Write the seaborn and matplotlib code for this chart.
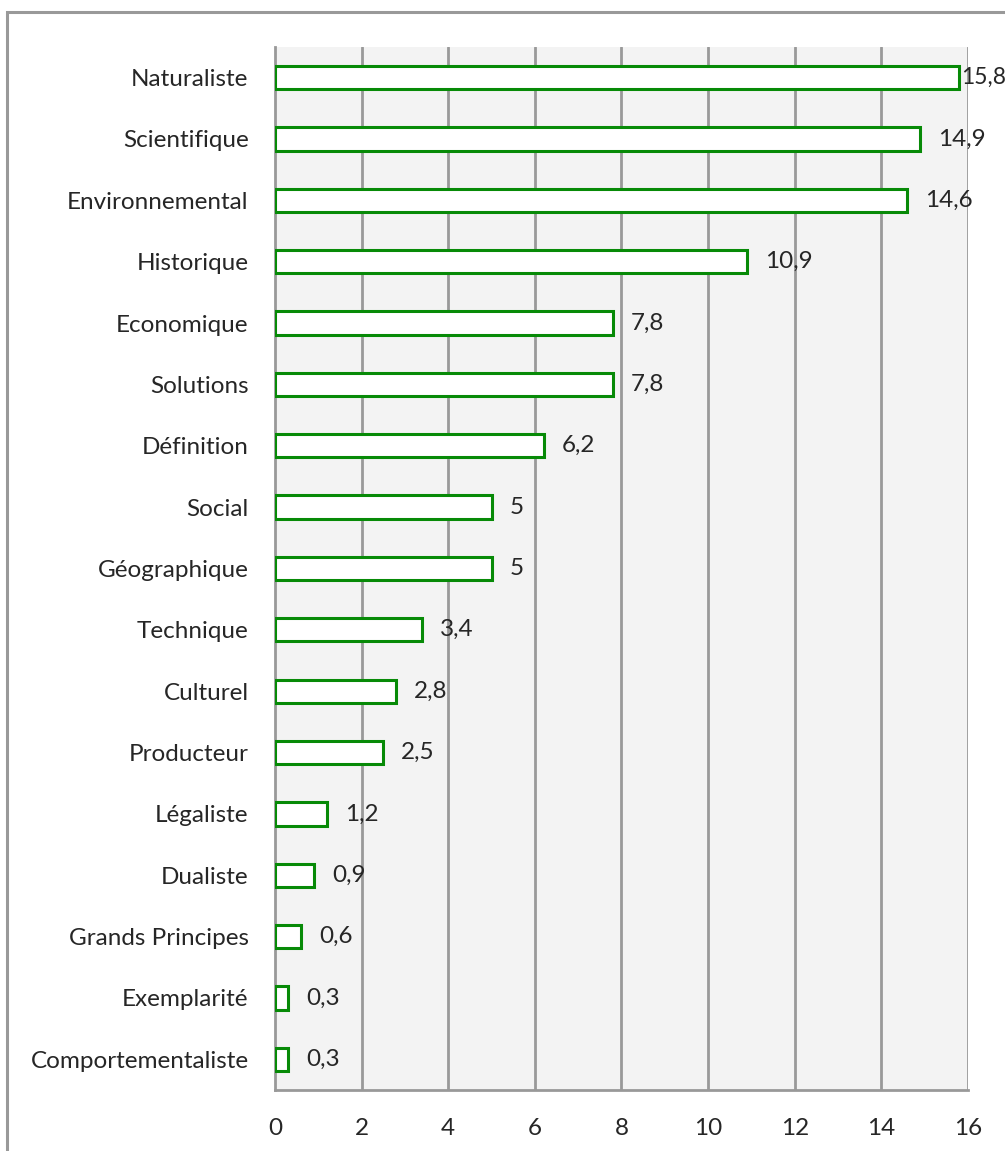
import matplotlib
matplotlib.use("Agg")
import matplotlib.pyplot as plt
import seaborn as sns
import pandas as pd
from matplotlib.patches import Rectangle

categories = ["Naturaliste", "Scientifique", "Environnemental", "Historique",
              "Economique", "Solutions", "Définition", "Social", "Géographique",
              "Technique", "Culturel", "Producteur", "Légaliste", "Dualiste",
              "Grands Principes", "Exemplarité", "Comportementaliste"]
values = [15.8, 14.9, 14.6, 10.9, 7.8, 7.8, 6.2, 5, 5, 3.4, 2.8, 2.5,
          1.2, 0.9, 0.6, 0.3, 0.3]
value_labels = ["15,8", "14,9", "14,6", "10,9", "7,8", "7,8", "6,2", "5", "5",
                "3,4", "2,8", "2,5", "1,2", "0,9", "0,6", "0,3", "0,3"]
x_ticks = [0, 2, 4, 6, 8, 10, 12, 14, 16]

df = pd.DataFrame({"cat": categories, "val": values})

sns.set_style("white")
plt.rcParams["font.family"] = ["Lato", "DejaVu Sans"]
fs = 17.5

fig = plt.figure(figsize=(10.05, 11.51), dpi=100)
ax = fig.add_axes([0.2736, 0.053, 0.6896, 0.9062])
ax.set_facecolor("#f3f3f3")

sns.barplot(data=df, x="val", y="cat", orient="h", color="white",
            edgecolor="#078a07", linewidth=2.2, width=0.38, ax=ax, zorder=3)

ax.set_xlim(0, 16)
ax.set_ylim(len(categories) - 0.5, -0.5)
ax.set_xticks(x_ticks)
ax.set_xticklabels([str(t) for t in x_ticks], fontsize=fs)
ax.set_xlabel("")
ax.set_ylabel("")

# vertical gridlines
for t in x_ticks[1:]:
    ax.axvline(t, color="#999999", lw=2, zorder=1)

# y tick labels centred on bars, tick marks at category boundaries
ax.set_yticks(range(len(categories)))
ax.set_yticklabels(categories, fontsize=fs)
ax.tick_params(axis="y", length=0, pad=19)
ax.set_yticks([i - 0.5 for i in range(len(categories) + 1)], minor=True)
ax.tick_params(axis="y", which="minor", length=8, width=2, color="#999999")
ax.tick_params(axis="x", length=8, width=2, color="#999999", pad=12)

for s in ["top", "right"]:
    ax.spines[s].set_visible(False)
for s in ["left", "bottom"]:
    ax.spines[s].set_color("#999999")
    ax.spines[s].set_linewidth(2)

for i, (v, lab) in enumerate(zip(values, value_labels)):
    # the longest bar's label is pulled in so it stays inside the chart
    if v >= 15.5:
        off, size = 1, 16.5
    else:
        off, size = 13, fs
    ax.annotate(lab, (v, i), xytext=(off, 0), textcoords="offset points",
                va="center", ha="left", fontsize=size, annotation_clip=False,
                zorder=5)

# outer chart border
fig.patches.append(Rectangle((7 / 1005, -0.05), 1.1, 1 - 12 / 1151 + 0.05,
                             transform=fig.transFigure, fill=False,
                             edgecolor="#999999", lw=2.2))

fig.savefig("out.png", dpi=100)
